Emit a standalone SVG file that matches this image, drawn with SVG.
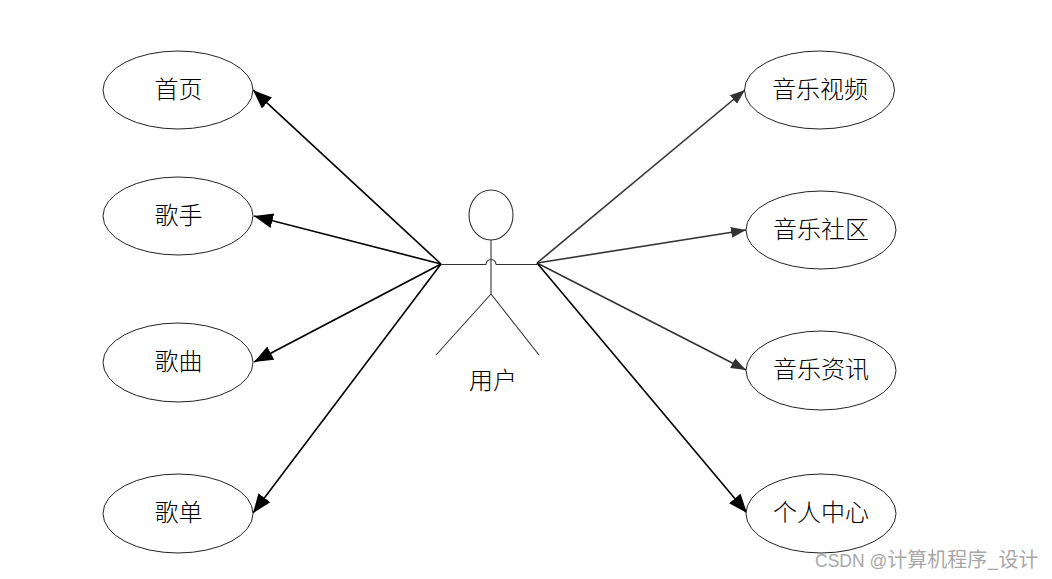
<svg xmlns="http://www.w3.org/2000/svg" width="1052" height="579" viewBox="0 0 1052 579">
<style>
.n{fill:#fff;stroke:#222;stroke-width:1}
.t{font-family:"Noto Sans CJK SC","Liberation Serif",serif;font-size:24px;font-weight:300;fill:#000;text-anchor:middle}
.s{fill:none;stroke:#333;stroke-width:1.100}
.a{fill:none;stroke:#000;stroke-width:1.600}
.b{fill:none;stroke:#333;stroke-width:1.600}
.w{font-family:"Liberation Sans","Noto Sans CJK SC",sans-serif;font-size:17.500px;fill:#a8a8a8}
.w2{font-family:"Noto Sans CJK SC",sans-serif;font-size:20px;fill:#a8a8a8}
</style>
<defs>
<marker id="k" markerUnits="userSpaceOnUse" markerWidth="20" markerHeight="16" refX="19" refY="7.500" orient="auto"><path d="M0 0L19 7.500L0 15Z" fill="#000"/></marker>
<marker id="g" markerUnits="userSpaceOnUse" markerWidth="16" markerHeight="12" refX="15" refY="5.500" orient="auto"><path d="M0 0L15 5.500L0 11Z" fill="#333"/></marker>
</defs>
<rect width="1052" height="579" fill="#fff"/>
<g id="connectors">
<line class="a" x1="441" y1="264" x2="253" y2="90" marker-end="url(#k)"/>
<line class="a" x1="441" y1="264" x2="254" y2="216" marker-end="url(#k)"/>
<line class="a" x1="441" y1="264" x2="254" y2="362" marker-end="url(#k)"/>
<line class="a" x1="441" y1="264" x2="253" y2="513" marker-end="url(#k)"/>
<line class="b" x1="537" y1="263" x2="745" y2="90" marker-end="url(#g)"/>
<line class="b" x1="537" y1="263" x2="746" y2="230" marker-end="url(#g)"/>
<line class="b" x1="537" y1="263" x2="746" y2="370" marker-end="url(#g)"/>
<line class="a" x1="537" y1="263" x2="747" y2="513" marker-end="url(#k)"/>
</g>
<g id="actor">
<ellipse class="s" cx="491" cy="215" rx="22" ry="25"/>
<path class="s" d="M491 240V294M441 264.500H486M496 264.500H537M486 264.500A5 5 0 0 1 496 264.500M491 294L436 355M491 294L539 355"/>
<text class="t" x="493" y="389">用户</text>
</g>
<g id="node-home"><ellipse class="n" cx="178" cy="90" rx="75" ry="39"/><text class="t" x="178.500" y="98">首页</text></g>
<g id="node-singer"><ellipse class="n" cx="178" cy="216" rx="75" ry="39"/><text class="t" x="178.500" y="224">歌手</text></g>
<g id="node-song"><ellipse class="n" cx="178" cy="362.500" rx="75" ry="39.500"/><text class="t" x="178.500" y="370">歌曲</text></g>
<g id="node-list"><ellipse class="n" cx="178" cy="513.500" rx="75" ry="39.500"/><text class="t" x="178.500" y="521">歌单</text></g>
<g id="node-video"><ellipse class="n" cx="819.500" cy="90" rx="75" ry="39"/><text class="t" x="820" y="98">音乐视频</text></g>
<g id="node-community"><ellipse class="n" cx="821" cy="230" rx="75" ry="39"/><text class="t" x="821" y="238">音乐社区</text></g>
<g id="node-news"><ellipse class="n" cx="821" cy="370.500" rx="75" ry="39.500"/><text class="t" x="821" y="378">音乐资讯</text></g>
<g id="node-center"><ellipse class="n" cx="821" cy="513.500" rx="75" ry="39.500"/><text class="t" x="821" y="521">个人中心</text></g>
<text class="w" x="815" y="567">CSDN @<tspan class="w2">计算机程序_设计</tspan></text>
</svg>
